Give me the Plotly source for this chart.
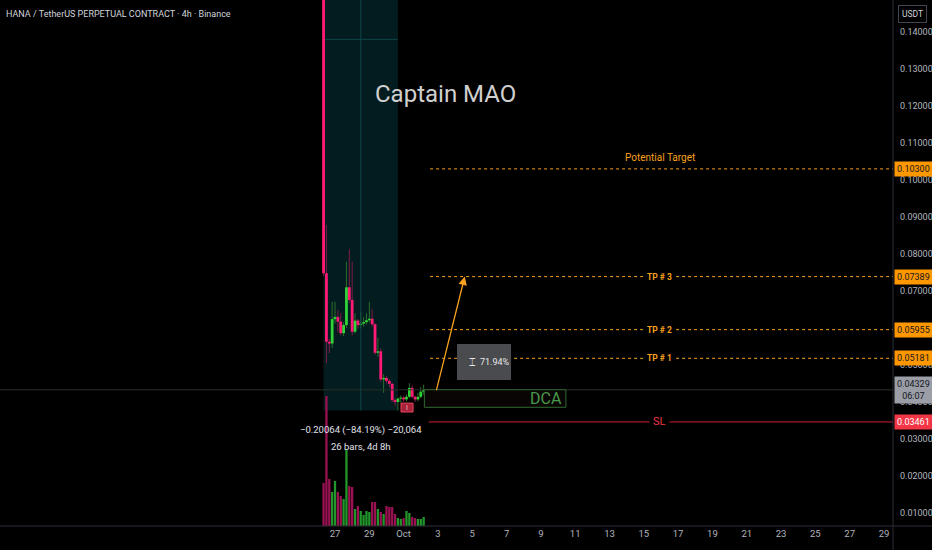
import pandas as pd
import plotly.graph_objects as go

# 4h candles, HANA/USDT perp
start_time = "2025-09-26 08:00"
opens = [0.23832, 0.0748, 0.0563, 0.0558, 0.0624, 0.0630, 0.0617, 0.0586, 0.0608, 0.0710,
         0.0676, 0.0590, 0.0620, 0.0608, 0.0612, 0.0616, 0.0621, 0.0625, 0.0610, 0.0533,
         0.0537, 0.0461, 0.0465, 0.0457, 0.0449, 0.0405, 0.0400, 0.0409, 0.0412, 0.0407,
         0.0414, 0.0438, 0.0414, 0.0407, 0.0414, 0.0428]
highs = [0.23832, 0.0878, 0.0570, 0.0671, 0.0671, 0.0649, 0.0640, 0.0615, 0.0779, 0.0813,
         0.0779, 0.0640, 0.0625, 0.0643, 0.0630, 0.0640, 0.0671, 0.0652, 0.0614, 0.0573,
         0.0545, 0.0475, 0.0470, 0.0462, 0.0452, 0.0410, 0.0412, 0.0418, 0.0416, 0.0420,
         0.0451, 0.0445, 0.0418, 0.0425, 0.0440, 0.0447]
lows = [0.0740, 0.0505, 0.0532, 0.0546, 0.0612, 0.0590, 0.0580, 0.0578, 0.0600, 0.0668,
        0.0580, 0.0585, 0.0598, 0.0598, 0.0604, 0.0610, 0.0615, 0.0605, 0.0528, 0.0522,
        0.0455, 0.0425, 0.0450, 0.0440, 0.0400, 0.0390, 0.03768, 0.0398, 0.0400, 0.0402,
        0.0410, 0.0410, 0.0400, 0.0402, 0.0410, 0.0420]
closes = [0.0748, 0.0563, 0.0558, 0.0624, 0.0630, 0.0617, 0.0586, 0.0608, 0.0710, 0.0676,
          0.0590, 0.0620, 0.0608, 0.0612, 0.0616, 0.0621, 0.0625, 0.0610, 0.0533, 0.0537,
          0.0461, 0.0465, 0.0457, 0.0449, 0.0405, 0.0400, 0.0409, 0.0412, 0.0407, 0.0414,
          0.0438, 0.0414, 0.0407, 0.0414, 0.0428, 0.04329]
volumes = [21.5, 65.0, 23.5, 17.0, 22.5, 17.0, 15.0, 13.5, 38.5, 20.0,
           19.5, 8.5, 10.0, 7.5, 5.5, 7.5, 7.0, 12.0, 12.0, 8.5,
           7.0, 6.0, 10.0, 9.5, 9.5, 6.0, 4.0, 3.5, 4.0, 7.5,
           6.5, 4.5, 4.0, 3.5, 3.5, 4.5]

# drawn levels
potential_target = 0.10300
tp_levels = [0.05181, 0.05955, 0.07389]
tp_names = ["TP # 1", "TP # 2", "TP # 3"]
stop_loss = 0.03461
last_price = 0.04329
dca_zone = [0.03857, 0.04332]
move_pct = "71.94%"

price_ticks = [0.01, 0.02, 0.03, 0.04, 0.05, 0.06, 0.07, 0.08, 0.09, 0.10, 0.11, 0.12, 0.13, 0.14]
date_ticks = ["2025-09-27", "2025-09-29", "2025-10-01", "2025-10-03", "2025-10-05", "2025-10-07",
              "2025-10-09", "2025-10-11", "2025-10-13", "2025-10-15", "2025-10-17", "2025-10-19",
              "2025-10-21", "2025-10-23", "2025-10-25", "2025-10-27", "2025-10-29"]
date_labels = ["27", "29", "Oct", "3", "5", "7", "9", "11", "13", "15", "17", "19",
               "21", "23", "25", "27", "29"]

UP = "#2fd436"
DOWN = "#ff1a75"
UP_WICK = "#2a6e2c"
DOWN_WICK = "#7c1f48"
ORANGE = "#f7a11c"

times = pd.date_range(start_time, periods=len(closes), freq="4h")
four_h = 4 * 3600 * 1000

fig = go.Figure()

# volume
vcol = ["#22962a" if c >= o else "#9a1252" for o, c in zip(opens, closes)]
fig.add_trace(go.Bar(x=times, y=volumes, marker=dict(color=vcol, line_width=0),
                     width=four_h * 0.8, yaxis="y2", hoverinfo="skip"))

# wicks then bodies, as line segments so bodies sit on top
def segs(lo, hi, up):
    sx, sy = [], []
    for t, o, c, a, b in zip(times, opens, closes, lo, hi):
        if (c >= o) == up:
            if abs(b - a) < 0.0003:
                a, b = min(a, b) - 0.00015, max(a, b) + 0.00015
            sx += [t, t, None]
            sy += [a, b, None]
    return sx, sy

for up in (True, False):
    wx, wy = segs(lows, highs, up)
    fig.add_trace(go.Scatter(x=wx, y=wy, mode="lines", hoverinfo="skip",
                             line=dict(color=UP_WICK if up else DOWN_WICK, width=1)))
for up in (True, False):
    bx, by = segs(opens, closes, up)
    fig.add_trace(go.Scatter(x=bx, y=by, mode="lines", hoverinfo="skip",
                             line=dict(color=UP if up else DOWN, width=2.8)))

shapes = []
ann = []

# date & price range tool (high of first bar to low of bar 27)
i0, i1 = 0, 26
t_mid = times[i0] + (times[i1] - times[i0]) / 2
p_mid = (highs[i0] + lows[i1]) / 2
shapes.append(dict(type="rect", xref="x", yref="y", x0=times[i0], x1=times[i1],
                   y0=lows[i1], y1=highs[i0], fillcolor="#031c1f", line_width=0, layer="below"))
ann.append(dict(x=times[i1], y=p_mid, ax=times[i0], ay=p_mid, xref="x", yref="y",
                axref="x", ayref="y", showarrow=True, arrowhead=0, arrowwidth=1,
                arrowcolor="#0f4548", text=""))
ann.append(dict(x=t_mid, y=lows[i1], ax=t_mid, ay=highs[i0], xref="x", yref="y",
                axref="x", ayref="y", showarrow=True, arrowhead=0, arrowwidth=1,
                arrowcolor="#0f4548", text=""))
drop = highs[i0] - lows[i1]
ann.append(dict(x=t_mid, y=0.0325, xref="x", yref="y", showarrow=False,
                text="\u22120.%05d (\u2212%.2f%%) \u221220,064" % (round(drop * 1e5), drop / highs[i0] * 100),
                font=dict(size=9.5, color="#e0e3eb")))
ann.append(dict(x=t_mid, y=0.0281, xref="x", yref="y", showarrow=False,
                text="%d bars, 4d 8h" % (i1 - i0), font=dict(size=9.5, color="#e0e3eb")))

# small red marker under the lows
shapes.append(dict(type="rect", xref="x", yref="y", x0="2025-09-30 20:20", x1="2025-10-01 13:10",
                   y0=0.0373, y1=0.0397, fillcolor="#a8223a", line=dict(color="#e8465f", width=1)))
ann.append(dict(x="2025-10-01 05:00", y=0.0385, xref="x", yref="y", showarrow=False,
                text="I", font=dict(size=7, color="#f0c0c8")))

# last price line
shapes.append(dict(type="line", xref="paper", yref="y", x0=0, x1=1, y0=last_price, y1=last_price,
                   line=dict(color="#283028", width=1)))

# target levels
lvl_start = "2025-10-02 13:00"
lvl_end = "2025-10-29 12:36"
label_t = "2025-10-15 22:30"
shapes.append(dict(type="line", xref="x", yref="y", x0=lvl_start, x1=lvl_end,
                   y0=potential_target, y1=potential_target,
                   line=dict(color=ORANGE, width=1, dash="dot")))
ann.append(dict(x=label_t, y=potential_target, xref="x", yref="y", yshift=11, showarrow=False,
                text="Potential Target", font=dict(size=10, color=ORANGE)))
for lv, nm in zip(tp_levels, tp_names):
    shapes.append(dict(type="line", xref="x", yref="y", x0=lvl_start, x1=lvl_end, y0=lv, y1=lv,
                       line=dict(color=ORANGE, width=1, dash="dot")))
    ann.append(dict(x=label_t, y=lv, xref="x", yref="y", showarrow=False, bgcolor="#000000",
                    text="<b>%s</b>" % nm, font=dict(size=8.5, color=ORANGE)))

# stop loss
shapes.append(dict(type="line", xref="x", yref="y", x0="2025-10-02 11:00", x1=lvl_end,
                   y0=stop_loss, y1=stop_loss, line=dict(color="#c42238", width=1)))
ann.append(dict(x=label_t, y=stop_loss, xref="x", yref="y", showarrow=False, bgcolor="#000000",
                borderpad=3, text="SL", font=dict(size=11, color="#f23645")))

# DCA zone
shapes.append(dict(type="rect", xref="x", yref="y", x0="2025-10-02 05:00", x1="2025-10-10 11:00",
                   y0=dca_zone[0], y1=dca_zone[1], fillcolor="#0a0505",
                   line=dict(color="#2f6b31", width=1)))
ann.append(dict(x="2025-10-10 08:00", y=sum(dca_zone) / 2, xref="x", yref="y", xanchor="right",
                showarrow=False, text="DCA", font=dict(size=16, color="#48994a")))

# projection arrow
ann.append(dict(x="2025-10-04 13:30", y=tp_levels[2], ax="2025-10-02 21:20", ay=closes[-1] - 0.0005,
                xref="x", yref="y", axref="x", ayref="y", showarrow=True, arrowhead=2,
                arrowsize=1.3, arrowwidth=1.3, arrowcolor=ORANGE, text=""))

# percentage box
shapes.append(dict(type="rect", xref="x", yref="y", x0="2025-10-04 02:40", x1="2025-10-07 06:15",
                   y0=0.04595, y1=0.05568, fillcolor="#4a4b4f", line_width=0))
ann.append(dict(x="2025-10-06 08:00", y=0.0508, xref="x", yref="y", showarrow=False,
                text=move_pct, font=dict(size=9, color="#e8e8e8")))
ann.append(dict(x="2025-10-05 00:00", y=0.0508, xref="x", yref="y", showarrow=False,
                text="\u2336", font=dict(size=11, color="#e8e8e8", family="DejaVu Sans")))

# watermark text
ann.append(dict(x="2025-10-03 11:00", y=0.1232, xref="x", yref="y", showarrow=False,
                text="Captain MAO", font=dict(size=24, color="#d0d0d0")))

# header
ann.append(dict(x=0.004, y=1 - 14 / 526, xref="paper", yref="paper", xanchor="left", yanchor="middle",
                showarrow=False, text="HANA / TetherUS PERPETUAL CONTRACT \u00b7 4h \u00b7 Binance",
                font=dict(size=9, color="#d1d4dc")))

# price scale labels
def axis_tag(price, text, bg, fg):
    ann.append(dict(x=1, y=price, xref="paper", yref="y", xanchor="left", xshift=1,
                    showarrow=False, text=text, bgcolor=bg, borderpad=2,
                    font=dict(size=9, color=fg)))

axis_tag(potential_target, "%.5f" % potential_target, "#ff9800", "#131722")
for lv in tp_levels:
    axis_tag(lv, "%.5f" % lv, "#ff9800", "#131722")
axis_tag(last_price, "%.5f<br>06:07" % last_price, "#9b9ea6", "#131722")
axis_tag(stop_loss, "%.5f" % stop_loss, "#f23645", "#ffffff")

ann.append(dict(x=1, y=1 - 14 / 526, xref="paper", yref="paper", xanchor="left", yanchor="middle",
                xshift=5, showarrow=False, text="USDT", bgcolor="#000000", bordercolor="#434651",
                borderwidth=1, borderpad=3, font=dict(size=8.5, color="#d1d4dc")))

# pane separators
shapes.append(dict(type="line", xref="paper", yref="paper", x0=1, x1=1, y0=-24 / 526, y1=1,
                   line=dict(color="#2a2e39", width=1)))
shapes.append(dict(type="line", xref="paper", yref="paper", x0=0, x1=932 / 893, y0=0, y1=0,
                   line=dict(color="#2a2e39", width=1)))

fig.update_layout(
    width=932, height=550,
    margin=dict(l=0, r=39, t=0, b=24),
    paper_bgcolor="#000000", plot_bgcolor="#000000",
    showlegend=False, barmode="overlay",
    font=dict(family="Roboto, Noto Sans, sans-serif", color="#b2b5be"),
    xaxis=dict(type="date", range=["2025-09-07 11:21", "2025-10-29 12:36"],
               tickvals=date_ticks, ticktext=date_labels, showgrid=False, zeroline=False,
               ticks="", tickfont=dict(size=9.5, color="#b2b5be")),
    yaxis=dict(range=[0.006486, 0.148649], side="right", tickvals=price_ticks, tickformat=".5f",
               showgrid=False, zeroline=False, ticks="", ticklabelstandoff=6,
               tickfont=dict(size=9, color="#b2b5be")),
    yaxis2=dict(overlaying="y", range=[0, 263], visible=False),
    shapes=shapes, annotations=ann,
)

fig.write_html("out.html", config={"displayModeBar": False},
               post_script="document.body.style.margin='0';document.body.style.background='#000';")
